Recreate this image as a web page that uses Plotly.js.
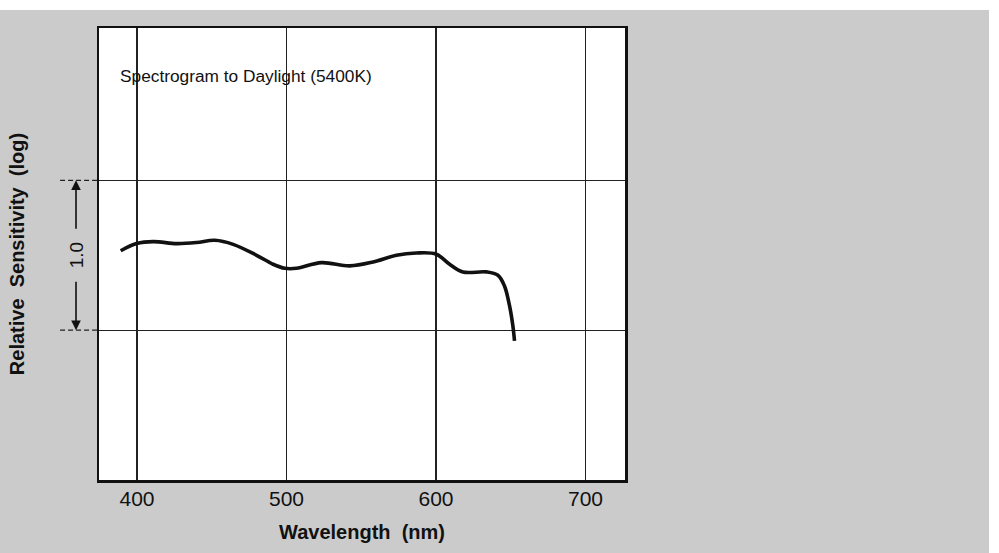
<!DOCTYPE html>
<html>
<head>
<meta charset="utf-8">
<script src="https://cdn.plot.ly/plotly-3.0.1.min.js"></script>
<style>
  html, body { margin: 0; padding: 0; background: #ffffff; width: 999px; height: 553px; overflow: hidden; }
  #chart { position: absolute; left: 0; top: 10px; width: 989px; height: 543px; }
</style>
</head>
<body>
<div id="chart"></div>
<script>
// Wavelength (nm) and relative sensitivity (log units)
const wavelength = [389.1, 399.8, 410.9, 426.5, 439.9, 452.1, 464.3, 480.0, 491.0, 498.9, 506.7,
                    523.4, 542.3, 557.9, 573.5, 586.8, 600.2, 609.1, 618.0, 633.6, 641.4, 645.8,
                    649.2, 651.4, 652.5];
const logSensitivity = [1.53, 1.578, 1.591, 1.578, 1.585, 1.600, 1.573, 1.500, 1.440, 1.413, 1.413,
                        1.451, 1.429, 1.455, 1.500, 1.515, 1.507, 1.440, 1.388, 1.389, 1.367, 1.295,
                        1.162, 1.029, 0.929];
const xTicks = [400, 500, 600, 700];
const xTickLabels = ["400", "500", "600", "700"];
const yGrid = [1, 2];

const FONT = "'Liberation Sans', Arial, Helvetica, sans-serif";

const trace = {
  x: wavelength,
  y: logSensitivity,
  type: "scatter",
  mode: "lines",
  line: { color: "#111111", width: 3.6, shape: "spline", smoothing: 1.0 },
  hoverinfo: "skip",
  showlegend: false
};

const shapes = yGrid.map(v => ({
  type: "line", xref: "paper", yref: "y",
  x0: -0.074, x1: 0, y0: v, y1: v,
  line: { color: "#222222", width: 1.3, dash: "5px,3px" }
}));

const annotations = [
  {
    xref: "paper", yref: "paper", x: 0.036, y: 0.894,
    xanchor: "left", yanchor: "middle", showarrow: false,
    text: "Spectrogram to Daylight (5400K)",
    font: { family: FONT, size: 17.3, color: "#111111" }
  },
  {
    xref: "paper", yref: "y", x: -0.0437, y: 1.5,
    xanchor: "center", yanchor: "middle", showarrow: false,
    text: "1.0", textangle: -90,
    font: { family: FONT, size: 19, color: "#111111" }
  },
  {
    xref: "paper", yref: "y", x: -0.0437, y: 2,
    ax: 0, ay: 50, showarrow: true, arrowhead: 2, arrowsize: 1.2, arrowwidth: 1.6,
    arrowcolor: "#111111", text: ""
  },
  {
    xref: "paper", yref: "y", x: -0.0437, y: 1,
    ax: 0, ay: -50, showarrow: true, arrowhead: 2, arrowsize: 1.2, arrowwidth: 1.6,
    arrowcolor: "#111111", text: ""
  }
];

const layout = {
  width: 989, height: 543,
  margin: { l: 99, r: 363.5, t: 18, b: 72.5 },
  paper_bgcolor: "#cbcbcb",
  plot_bgcolor: "#ffffff",
  showlegend: false,
  xaxis: {
    range: [374.6, 726.4],
    tickvals: xTicks, ticktext: xTickLabels,
    showgrid: true, gridcolor: "#222222", gridwidth: 1.3,
    zeroline: false,
    showline: true, mirror: true, linecolor: "#111111", linewidth: 2.5,
    ticks: "",
    ticklabelstandoff: -2,
    tickfont: { family: FONT, size: 21, color: "#111111" },
    title: { text: "Wavelength&nbsp;&nbsp;(nm)", standoff: 17,
             font: { family: FONT, size: 20, color: "#111111", weight: "bold" } }
  },
  yaxis: {
    range: [0, 3.017],
    tickvals: yGrid,
    showticklabels: false,
    showgrid: true, gridcolor: "#222222", gridwidth: 1.3,
    zeroline: false,
    showline: true, mirror: true, linecolor: "#111111", linewidth: 2.5,
    ticks: "",
    title: { text: "Relative&nbsp;&nbsp;Sensitivity&nbsp;&nbsp;(log)", standoff: 67,
             font: { family: FONT, size: 20, color: "#111111", weight: "bold" } }
  },
  shapes: shapes,
  annotations: annotations
};

Plotly.newPlot("chart", [trace], layout, { staticPlot: true, displayModeBar: false });
</script>
</body>
</html>
